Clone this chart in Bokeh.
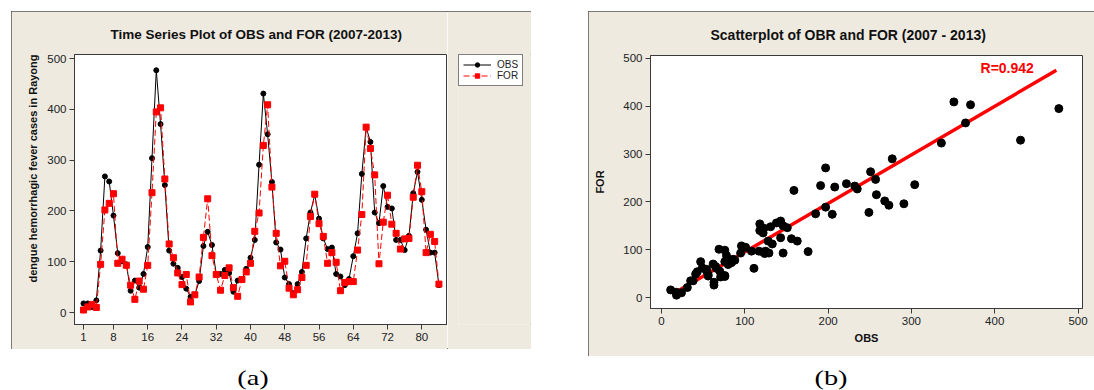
import numpy as np
from bokeh.plotting import figure
from bokeh.models import Legend, LegendItem, Label, FixedTicker, Range1d, Div, Title
from bokeh.layouts import row, column
from bokeh.embed import file_html
from bokeh.resources import INLINE

# ---------------- data ----------------
T = list(range(1, 85))
OBS = [18, 18, 11, 24, 122, 268, 258, 191, 117, 101,
       95, 43, 63, 49, 76, 129, 304, 477, 371, 251,
       122, 96, 88, 70, 47, 31, 35, 62, 131, 159,
       133, 76, 76, 84, 78, 41, 63, 65, 86, 108,
       143, 291, 431, 351, 257, 138, 124, 69, 56, 38,
       56, 80, 146, 197, 232, 185, 146, 125, 128, 76,
       71, 54, 66, 111, 156, 273, 365, 336, 197, 176,
       249, 208, 205, 143, 143, 123, 151, 235, 277, 222,
       163, 118, 118, 54]
FOR = [5, 11, 16, 10, 95, 202, 215, 234, 97, 105,
       93, 54, 26, 62, 46, 93, 236, 395, 403, 263,
       135, 108, 78, 55, 75, 21, 35, 70, 148, 224,
       112, 75, 44, 73, 88, 49, 32, 65, 80, 97,
       160, 196, 329, 409, 247, 156, 92, 101, 48, 35,
       45, 69, 93, 189, 233, 175, 150, 97, 118, 99,
       43, 59, 61, 61, 123, 193, 365, 323, 271, 96,
       178, 231, 174, 156, 125, 145, 146, 227, 290, 238,
       118, 154, 140, 56]
XTICKS_A = [1, 8, 16, 24, 32, 40, 48, 56, 64, 72, 80]
YTICKS = [0, 100, 200, 300, 400, 500]
XTICKS_B = [0, 100, 200, 300, 400, 500]
FIT_X = [14, 474]
FIT_Y = [8, 475]
R_TEXT = "R=0.942"

BEIGE = "#EEEAE0"
AX = "#3a3a3a"
FONT = "Liberation Sans"


def style(p):
    p.grid.visible = False
    p.outline_line_color = AX
    p.outline_line_width = 1
    for ax in (p.xaxis, p.yaxis):
        ax.axis_line_color = AX
        ax.major_tick_line_color = AX
        ax.major_tick_in = 0
        ax.major_tick_out = 5
        ax.minor_tick_line_color = None
        ax.major_label_text_font = FONT
        ax.major_label_text_font_size = "11.5px"
        ax.major_label_text_color = "#222222"
        ax.major_label_standoff = 3
        ax.axis_label_text_font = FONT
        ax.axis_label_text_font_style = "bold"
        ax.axis_label_text_font_size = "11px"
        ax.axis_label_text_color = "#111111"
    p.title.text_font = FONT
    p.title.text_font_style = "bold"
    p.title.align = "left"
    p.title.text_color = "#111111"


# ---------------- panel (a) ----------------
pa = figure(width=436, height=338, x_range=Range1d(-1.1, 86), y_range=Range1d(-23.5, 508),
            output_backend="svg", toolbar_location=None,
            min_border_left=63, min_border_right=0, min_border_top=42, min_border_bottom=25,
            background_fill_color="white", border_fill_color=BEIGE,
            title="Time Series Plot of OBS and FOR (2007-2013)")
style(pa)
pa.title.text_font_size = "13.5px"
pa.title.offset = 36
pa.title.standoff = 26
pa.xaxis.ticker = FixedTicker(ticks=XTICKS_A)
pa.yaxis.ticker = FixedTicker(ticks=YTICKS)
pa.add_layout(Title(text="dengue hemorrhagic fever cases in Rayong", align="left", offset=42,
                    standoff=11, text_font=FONT, text_font_style="bold",
                    text_font_size="11px", text_color="#111111"), "left")

pa.line(T, OBS, line_color="black", line_width=1)
pa.scatter(T, OBS, marker="circle", size=5, color="black")
pa.line(T, FOR, line_color="red", line_width=1, line_dash="6 3")
pa.scatter(T, FOR, marker="square", size=6, color="red")

# legend strip (right part of panel a); the same series drawn off-range so only
# their legend glyphs show
lf = figure(width=84, height=338, x_range=Range1d(-10, 0), y_range=Range1d(-10, 0),
            x_axis_location=None, y_axis_location=None,
            min_border_left=11, min_border_top=42, min_border_right=0, min_border_bottom=0,
            output_backend="svg", toolbar_location=None,
            background_fill_color=BEIGE, border_fill_color=BEIGE, outline_line_color=None)
lf.grid.visible = False
k1 = lf.line(T, OBS, line_color="black", line_width=1)
k2 = lf.scatter(T, OBS, marker="circle", size=5, color="black")
k3 = lf.line(T, FOR, line_color="red", line_width=1, line_dash="6 3")
k4 = lf.scatter(T, FOR, marker="square", size=6, color="red")
leg = Legend(items=[LegendItem(label="OBS", renderers=[k1, k2]),
                    LegendItem(label="FOR", renderers=[k3, k4])],
             location="top_left", margin=0, padding=4, spacing=0,
             glyph_width=28, glyph_height=11, label_height=11, label_standoff=6,
             label_text_font=FONT, label_text_font_size="10px", label_text_color="#222222",
             border_line_color="black", border_line_width=1,
             background_fill_color="white", background_fill_alpha=1.0)
lf.add_layout(leg)

row_a = row(pa, lf, margin=(11, 0, 0, 11),
            styles={"outline": "1px solid #555555", "outline-offset": "-1px"})

# ---------------- panel (b) ----------------
pb = figure(width=506, height=345, x_range=Range1d(-13.2, 505.4), y_range=Range1d(-22.9, 506),
            output_backend="svg", toolbar_location=None,
            min_border_left=62, min_border_right=12, min_border_top=43, min_border_bottom=48,
            background_fill_color="white", border_fill_color=BEIGE,
            title="Scatterplot of OBR and FOR (2007 - 2013)")
style(pb)
pb.title.text_font_size = "14px"
pb.title.offset = 60
pb.title.standoff = 26
pb.xaxis.ticker = FixedTicker(ticks=XTICKS_B)
pb.yaxis.ticker = FixedTicker(ticks=YTICKS)
pb.xaxis.axis_label = "OBS"
pb.yaxis.axis_label = "FOR"
pb.xaxis.axis_label_standoff = 4
pb.yaxis.axis_label_standoff = 14

pb.line(FIT_X, FIT_Y, line_color="red", line_width=3.5)
pb.scatter(OBS, FOR, marker="circle", size=8, color="black")
pb.add_layout(Label(x=415, y=479, text=R_TEXT, text_align="center", text_baseline="middle",
                    text_color="red", text_font=FONT, text_font_style="bold",
                    text_font_size="14px"))
pb.margin = (11, 0, 0, 57)
pb.styles = {"outline": "1px solid #555555", "outline-offset": "-1px"}

cap_style = {"font-family": "Liberation Serif", "font-size": "21px", "text-align": "center",
             "color": "black", "transform": "scaleX(1.35)"}
cap_a = Div(text="(a)", width=200, height=26, margin=(14, 0, 0, 153), styles=cap_style)
cap_b = Div(text="(b)", width=200, height=26, margin=(7, 0, 0, 200), styles=cap_style)

lay = row(column(row_a, cap_a), column(pb, cap_b))

open("out.html", "w").write(file_html(lay, INLINE))
